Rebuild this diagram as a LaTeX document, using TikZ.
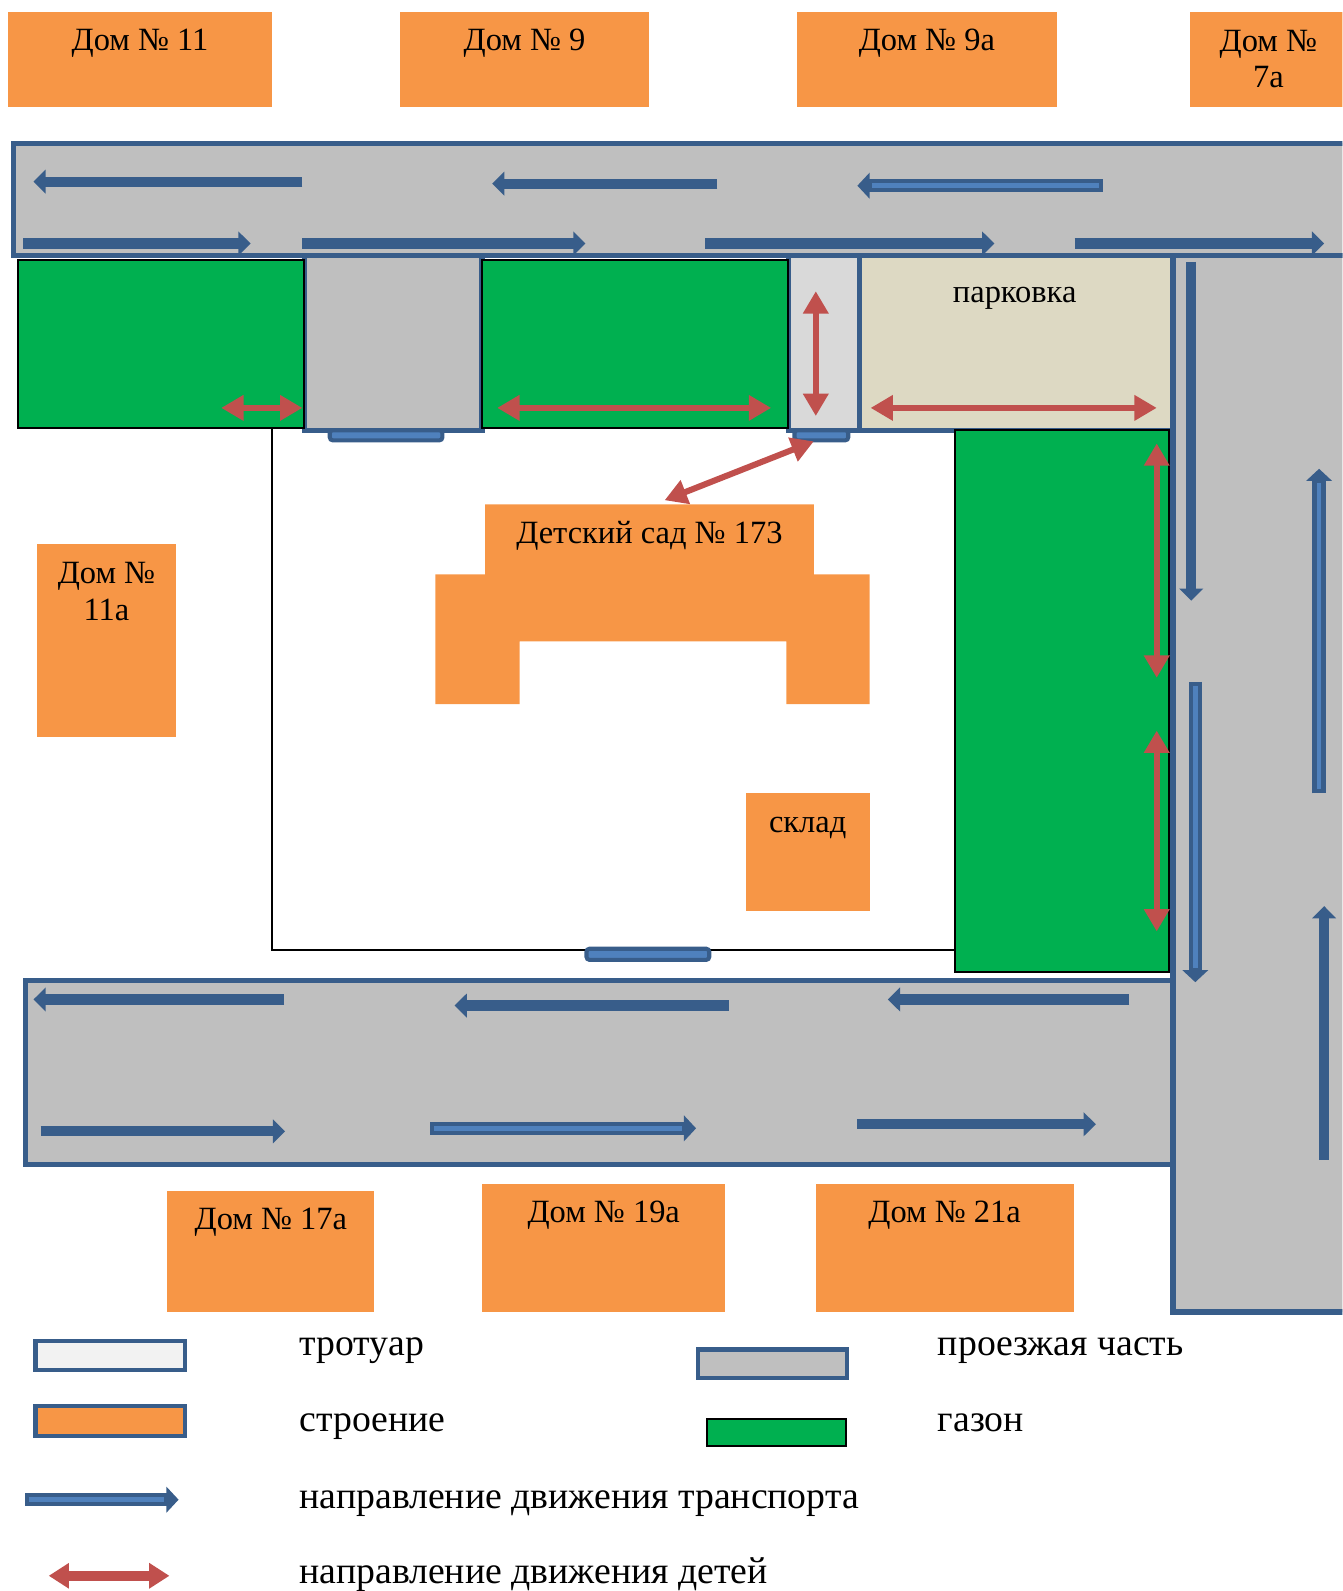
\documentclass[tikz,border=0pt]{standalone}
\usepackage{fontspec}
\setmainfont{Liberation Serif}
\usetikzlibrary{arrows.meta}
\definecolor{roadgray}{HTML}{BFBFBF}
\definecolor{roadedge}{HTML}{385D8A}
\definecolor{lightblue}{HTML}{4F81BD}
\definecolor{housecol}{HTML}{F79646}
\definecolor{lawncol}{HTML}{00B050}
\definecolor{walkcol}{HTML}{D9D9D9}
\definecolor{parkcol}{HTML}{DDD9C3}
\definecolor{kidcol}{HTML}{C0504D}
\definecolor{palecol}{HTML}{F2F2F2}

\begin{document}
\begin{tikzpicture}[x=0.5pt, y=-0.5pt,
    roadbox/.style={fill=roadgray, draw=roadedge, line width=2.5pt},
    house/.style={fill=housecol},
    lawn/.style={fill=lawncol, draw=black, line width=1pt},
    gate/.style={fill=lightblue, draw=roadedge, line width=2pt, rounded corners=1.5pt},
    car/.style={draw=roadedge, line width=5pt, -{Triangle[width=11.5pt, length=6pt]}},
    carlit/.style={car, line width=6.5pt, -{Triangle[width=12.5pt, length=6pt]},
        postaction={draw=lightblue, line width=2.2pt, -, shorten >=7pt, shorten <=2pt}},
    kid/.style={draw=kidcol, line width=3pt, {Triangle[width=12pt, length=11pt]}-{Triangle[width=12pt, length=11pt]}},
    lab/.style={font=\fontsize{16}{18}\selectfont, anchor=base, inner sep=0pt},
    leg/.style={font=\fontsize{18.6}{22}\selectfont, anchor=base west, inner sep=0pt}]
    \useasboundingbox (0,0) rectangle (1323,1568);
    \clip (0,0) rectangle (1323,1568);
    % roads
    \draw[roadbox] (13,141) rectangle (1340,252);
    \draw[roadbox] (25,966) rectangle (1156,1148);
    \draw[roadbox] (1156,252) rectangle (1340,1293);
    \draw[roadbox] (300,252) rectangle (475,424);
    \draw[roadbox, fill=walkcol] (777,252) rectangle (847,424);
    \draw[roadbox, fill=parkcol] (847,252) rectangle (1156,424);
    \node (park) [lab] at (1000,298) {парковка};
    % lawns
    \draw[lawn] (18,256) rectangle (300,422);
    \draw[lawn] (475,256) rectangle (777,422);
    \draw[lawn] (941,424) rectangle (1152,958);
    % fence and gates
    \draw[line width=0.9pt] (268,422) -- (268,936) -- (941,936);
    \draw[gate] (325,424) rectangle (436,434);
    \draw[gate] (783,424) rectangle (836,434);
    \draw[gate] (578,935) rectangle (699,946);
    % houses
    \foreach \xa/\xb/\nm/\hn in {8/268/h11/11, 394/640/h9/9, 785/1042/h9a/9а} {
        \fill[house] (\xa,12) rectangle (\xb,105);
        \node (\nm) [lab] at ({(\xa+\xb)/2},50) {Дом № \hn};
    }
    \fill[house] (1173,12) rectangle (1340,105);
    \node (h7a) [lab, align=center, anchor=north] at (1250,29) {Дом №\\7а};
    \fill[house] (36,536) rectangle (173,726);
    \node (h11a) [lab, align=center, anchor=north] at (105,554) {Дом №\\11а};
    \foreach \xa/\xb/\ya/\nm/\hn in {165/369/1174/h17a/17а, 475/715/1167/h19a/19а, 804/1058/1167/h21a/21а} {
        \fill[house] (\xa,\ya) rectangle (\xb,1293);
        \node (\nm) [lab] at ({(\xa+\xb)/2},\ya+38) {Дом № \hn};
    }
    \fill[house] (478,497) -- (802,497) -- (802,566) -- (857,566) -- (857,694) -- (775,694)
        -- (775,632) -- (512,632) -- (512,694) -- (429,694) -- (429,566) -- (478,566) -- cycle;
    \node (sad) [lab] at (640,536) {Детский сад № 173};
    \fill[house] (735,782) rectangle (857,898);
    \node (sklad) [lab] at (796,820) {склад};
    % traffic
    \foreach \a/\b/\y in {298/33/179, 707/485/181, 23/247/240, 298/577/240, 695/980/240, 1059/1305/240,
        280/33/985, 718/448/991, 1113/875/985, 40/281/1115, 845/1080/1108} {
        \draw[car] (\a,\y) -- (\b,\y);
    }
    \draw[carlit] (1087,183) -- (845,183);
    \draw[carlit] (424,1112) -- (686,1112);
    \draw[car] (1174,258) -- (1174,592);
    \draw[carlit] (1178,672) -- (1178,968);
    \draw[carlit] (1300,782) -- (1300,462);
    \draw[car] (1305,1143) -- (1305,893);
    % children
    \draw[kid] (218,402) -- (298,402);
    \draw[kid] (490,402) -- (760,402);
    \draw[kid] (804,287) -- (804,410);
    \draw[kid] (858,402) -- (1140,402);
    \draw[kid] (655,493) -- (802,435);
    \draw[kid] (1140,437) -- (1140,668);
    \draw[kid] (1140,720) -- (1140,918);
    % legend
    \draw[roadbox, fill=palecol, line width=2pt] (35,1322) rectangle (182,1350);
    \node (lwalk) [leg] at (295,1336) {тротуар};
    \draw[roadbox, fill=housecol, line width=2pt] (35,1386) rectangle (182,1415);
    \node (lhouse) [leg] at (295,1411) {строение};
    \draw[roadbox, line width=2pt] (688,1330) rectangle (835,1358);
    \node (lroad) [leg] at (924,1336) {проезжая часть};
    \draw[lawn] (697,1398) rectangle (834,1425);
    \node (llawn) [leg] at (924,1411) {газон};
    \draw[carlit] (25,1478) -- (176,1478);
    \node (lcar) [leg] at (295,1487) {направление движения транспорта};
    \draw[kid, line width=5pt, {Triangle[width=12pt, length=10pt]}-{Triangle[width=12pt, length=10pt]}] (48,1553) -- (167,1553);
    \node (lkid) [leg] at (295,1561) {направление движения детей};
\end{tikzpicture}
\end{document}
